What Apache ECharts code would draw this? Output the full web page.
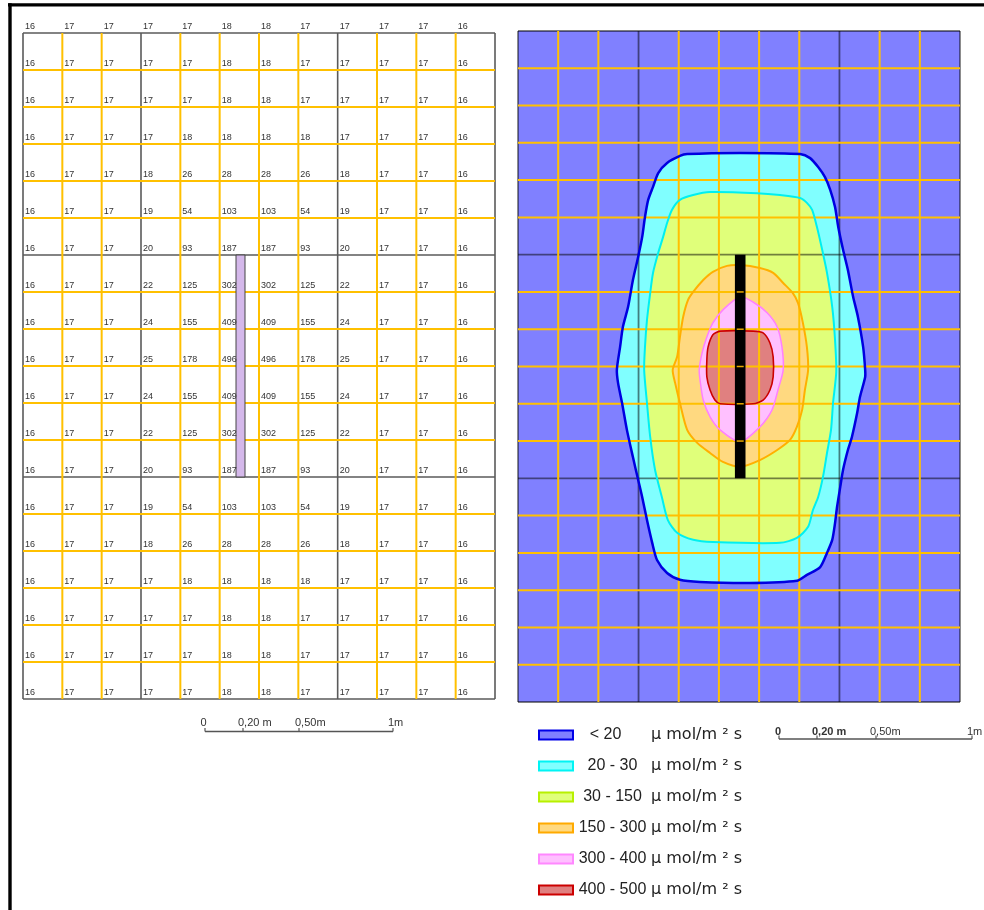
<!DOCTYPE html>
<html><head><meta charset="utf-8">
<script src="https://cdn.jsdelivr.net/npm/echarts@6/dist/echarts.min.js"></script>
<style>html,body{margin:0;padding:0;background:#fff}#c{width:984px;height:910px}</style>
</head><body><div id="c"></div>
<script>
// ---------------- DATA ----------------
// Values at the grid nodes of the left panel (19 node rows x 12 node columns)
const gridValues = [
  [16,17,17,17,17,18,18,17,17,17,17,16],
  [16,17,17,17,17,18,18,17,17,17,17,16],
  [16,17,17,17,17,18,18,17,17,17,17,16],
  [16,17,17,17,18,18,18,18,17,17,17,16],
  [16,17,17,18,26,28,28,26,18,17,17,16],
  [16,17,17,19,54,103,103,54,19,17,17,16],
  [16,17,17,20,93,187,187,93,20,17,17,16],
  [16,17,17,22,125,302,302,125,22,17,17,16],
  [16,17,17,24,155,409,409,155,24,17,17,16],
  [16,17,17,25,178,496,496,178,25,17,17,16],
  [16,17,17,24,155,409,409,155,24,17,17,16],
  [16,17,17,22,125,302,302,125,22,17,17,16],
  [16,17,17,20,93,187,187,93,20,17,17,16],
  [16,17,17,19,54,103,103,54,19,17,17,16],
  [16,17,17,18,26,28,28,26,18,17,17,16],
  [16,17,17,17,18,18,18,18,17,17,17,16],
  [16,17,17,17,17,18,18,17,17,17,17,16],
  [16,17,17,17,17,18,18,17,17,17,17,16],
  [16,17,17,17,17,18,18,17,17,17,17,16]
];
const leftColLines  = [0,1,2,3,4,5,6,7,8,9,10,11,12];
const leftMajorCols = [0,3,8,12];
const rightColLines = [0,1,2,3,4,5,6,7,8,9,10,11];
const rightMajorCols = [0,3,8,11];
const rowLines  = [0,1,2,3,4,5,6,7,8,9,10,11,12,13,14,15,16,17,18];
const majorRows = [0,6,12,18];

// light source (bar): column position and row span
const sourceCol = 5.53;
const sourceRows = [6, 12];
const sourceTickRows = [7,8,9,10,11];

// classes
const classNames = ['< 20', '20 - 30', '30 - 150', '150 - 300', '300 - 400', '400 - 500'];
const unitText = 'μ mol/m ² s';

// iso-lines (column, row) in right panel units
const contour20 = [[4.21,3.30],[4.03,3.35],[3.71,3.54],[3.49,3.81],[3.36,4.18],[3.24,4.53],[3.16,4.99],[3.09,5.53],[2.99,6.06],[2.86,6.68],[2.74,7.40],[2.61,7.94],[2.54,8.48],[2.46,9.09],[2.49,9.44],[2.59,9.98],[2.71,10.70],[2.86,11.43],[2.99,12.04],[3.09,12.50],[3.21,13.12],[3.34,13.73],[3.46,14.19],[3.71,14.54],[4.03,14.72],[4.53,14.78],[5.77,14.81],[6.94,14.75],[7.19,14.59],[7.52,14.38],[7.69,14.00],[7.82,13.65],[7.89,13.20],[7.94,12.77],[8.02,12.23],[8.09,11.77],[8.21,11.24],[8.31,10.89],[8.44,10.25],[8.51,9.82],[8.64,9.28],[8.64,9.09],[8.59,8.48],[8.46,7.67],[8.34,7.13],[8.21,6.41],[8.09,5.87],[7.97,5.26],[7.89,4.72],[7.77,4.26],[7.64,3.92],[7.47,3.65],[7.27,3.41],[7.02,3.30],[5.53,3.27]];
const contour30 = [[4.78,4.32],[4.36,4.40],[4.03,4.53],[3.83,4.80],[3.71,5.15],[3.61,5.53],[3.49,5.95],[3.36,6.49],[3.29,7.03],[3.21,7.75],[3.16,8.48],[3.14,9.09],[3.21,9.98],[3.29,10.89],[3.41,11.77],[3.58,12.50],[3.73,13.12],[3.96,13.46],[4.36,13.65],[4.85,13.71],[6.52,13.73],[6.94,13.60],[7.22,13.30],[7.34,12.85],[7.47,12.50],[7.59,11.96],[7.69,11.32],[7.79,10.70],[7.84,9.98],[7.92,9.15],[7.89,8.29],[7.82,7.40],[7.69,6.49],[7.57,5.87],[7.44,5.26],[7.32,4.80],[7.19,4.61],[7.02,4.48],[6.52,4.40],[5.95,4.35]];
const contour150 = [[5.53,6.28],[5.20,6.30],[4.85,6.46],[4.61,6.68],[4.36,7.00],[4.23,7.22],[4.11,7.67],[4.03,8.21],[3.96,8.74],[3.85,9.09],[3.91,9.44],[4.03,9.98],[4.21,10.70],[4.46,11.05],[4.78,11.32],[5.10,11.56],[5.53,11.69],[6.02,11.51],[6.45,11.24],[6.77,10.97],[6.94,10.62],[7.07,10.17],[7.14,9.63],[7.22,9.09],[7.19,8.48],[7.09,7.83],[6.97,7.30],[6.84,7.03],[6.60,6.76],[6.35,6.49],[6.02,6.36]];
const contour300 = [[5.53,7.13],[5.10,7.48],[4.85,7.83],[4.70,8.21],[4.58,8.64],[4.51,9.09],[4.53,9.36],[4.61,9.90],[4.78,10.35],[5.03,10.70],[5.53,11.02],[6.02,10.62],[6.32,10.17],[6.47,9.63],[6.60,9.09],[6.57,8.48],[6.45,7.94],[6.20,7.56],[5.85,7.27]];
const contour400 = [[5.03,8.05],[4.85,8.15],[4.73,8.48],[4.70,8.82],[4.70,9.28],[4.78,9.63],[4.90,9.90],[5.03,10.00],[5.85,10.00],[6.10,9.90],[6.27,9.63],[6.35,9.28],[6.35,8.74],[6.27,8.37],[6.10,8.10],[5.85,8.05]];

// ---------------- STYLE ----------------
const FONT = "'Liberation Sans', Arial, sans-serif";
const fills   = ['#8080FF', '#80FFFF', '#E0FF7A', '#FFD980', '#FFC0FF', '#E08080'];
const strokes = ['#0000E8', '#00F4F4', '#B8F000', '#FFAA00', '#FF88FF', '#CC0000'];
const contours = [null, contour20, contour30, contour150, contour300, contour400];
const ORANGE = '#FFC000';

const chart = echarts.init(document.getElementById('c'), null, {renderer: 'canvas'});

function gridLineData(cols, majorCols) {
  const d = [];
  cols.forEach(c => d.push([0, c, majorCols.includes(c) ? 1 : 0]));
  rowLines.forEach(r => d.push([1, r, majorRows.includes(r) ? 1 : 0]));
  return d;
}
function gridLineRender(xMax, yMax, majorStyle, minorStyle) {
  return function (params, api) {
    const o = api.value(0), pos = api.value(1), major = api.value(2);
    let p1, p2;
    if (o === 0) { p1 = api.coord([pos, 0]); p2 = api.coord([pos, yMax]); }
    else { p1 = api.coord([0, pos]); p2 = api.coord([xMax, pos]); }
    return {type: 'line', shape: {x1: p1[0], y1: p1[1], x2: p2[0], y2: p2[1]},
      style: major ? majorStyle : minorStyle, z2: major ? 1 : 2};
  };
}

const labelData = [];
gridValues.forEach((row, r) => row.forEach((v, c) => labelData.push([c, r, v])));

const series = [];
// Left panel grid lines
series.push({type: 'custom', xAxisIndex: 0, yAxisIndex: 0, z: 1, clip: false, silent: true,
  data: gridLineData(leftColLines, leftMajorCols),
  renderItem: gridLineRender(12, 18, {stroke: '#5a5a5a', lineWidth: 1.6}, {stroke: ORANGE, lineWidth: 2})});
// Left panel source bar
series.push({type: 'custom', xAxisIndex: 0, yAxisIndex: 0, z: 2, clip: false, silent: true,
  data: [[sourceCol, sourceRows[0], sourceRows[1]]],
  renderItem: function (params, api) {
    const a = api.coord([api.value(0), api.value(1)]), b = api.coord([api.value(0), api.value(2)]);
    return {type: 'rect', shape: {x: a[0] - 4.5, y: a[1], width: 9, height: b[1] - a[1]},
      style: {fill: '#D4B8EA', stroke: '#444', lineWidth: 1}};
  }});
// Left panel node labels
series.push({type: 'custom', xAxisIndex: 0, yAxisIndex: 0, z: 3, clip: false, silent: true,
  data: labelData,
  renderItem: function (params, api) {
    const p = api.coord([api.value(0), api.value(1)]);
    return {type: 'text', x: p[0] + 2, y: p[1] - 6,
      style: {text: String(api.value(2)), fill: '#333', font: '9px ' + FONT, align: 'left', verticalAlign: 'middle'}};
  }});

// Right panel: filled classes
classNames.forEach((name, i) => {
  series.push({type: 'custom', name: name, xAxisIndex: 1, yAxisIndex: 1, z: 1, clip: false, silent: true,
    itemStyle: {color: fills[i]},
    data: [[5.5, 9]],
    renderItem: function (params, api) {
      if (i === 0) {
        const a = api.coord([0, 0]), b = api.coord([11, 18]);
        return {type: 'rect', shape: {x: a[0], y: a[1], width: b[0] - a[0], height: b[1] - a[1]}, style: {fill: fills[0]}};
      }
      return {type: 'polygon', shape: {points: contours[i].map(p => api.coord(p)), smooth: 0.25}, style: {fill: fills[i]}};
    }});
});
// Right panel grid lines
series.push({type: 'custom', xAxisIndex: 1, yAxisIndex: 1, z: 2, clip: false, silent: true,
  data: gridLineData(rightColLines, rightMajorCols),
  renderItem: gridLineRender(11, 18, {stroke: 'rgba(0,0,0,0.5)', lineWidth: 1.8}, {stroke: ORANGE, lineWidth: 2})});
// Right panel iso-lines
const lineColors = ['#0000E0', '#00F0F0', '#FFB000', '#FF80FF', '#CC0000'];
const lineWidths = [2.5, 2, 2, 1.5, 1.6];
series.push({type: 'custom', xAxisIndex: 1, yAxisIndex: 1, z: 3, clip: false, silent: true,
  data: [[0], [1], [2], [3], [4]],
  renderItem: function (params, api) {
    const k = params.dataIndex;
    return {type: 'polygon', shape: {points: contours[k + 1].map(p => api.coord(p)), smooth: 0.25},
      style: {fill: 'none', stroke: lineColors[k], lineWidth: lineWidths[k]}};
  }});
// Right panel source bar
series.push({type: 'custom', xAxisIndex: 1, yAxisIndex: 1, z: 4, clip: false, silent: true,
  data: [[sourceCol, sourceRows[0], sourceRows[1]]],
  renderItem: function (params, api) {
    const a = api.coord([api.value(0), api.value(1)]), b = api.coord([api.value(0), api.value(2)]);
    const children = [{type: 'rect', shape: {x: a[0] - 5.3, y: a[1], width: 10.6, height: b[1] - a[1]}, style: {fill: '#000'}}];
    sourceTickRows.forEach(r => {
      const t = api.coord([api.value(0), r]);
      children.push({type: 'line', shape: {x1: t[0] - 3.5, y1: t[1], x2: t[0] + 3.5, y2: t[1]}, style: {stroke: '#E8A800', lineWidth: 1.5}});
    });
    return {type: 'group', children: children};
  }});

function scaleBar(x0, y, ticks, labels, ty, bold) {
  const els = [{type: 'line', shape: {x1: ticks[0], y1: y, x2: ticks[ticks.length - 1], y2: y}, style: {stroke: '#555', lineWidth: 1.5}}];
  ticks.forEach(t => els.push({type: 'line', shape: {x1: t, y1: y - 3.5, x2: t, y2: y}, style: {stroke: '#555', lineWidth: 1.2}}));
  labels.forEach(l => els.push({type: 'text', x: l[1], y: ty,
    style: {text: l[0], font: (l[2] ? 'bold ' : '') + '11px ' + FONT, fill: '#333', align: l[3] || 'left', verticalAlign: 'middle'}}));
  return els;
}

const graphics = [
  {type: 'line', shape: {x1: 8, y1: 4.8, x2: 984, y2: 4.8}, style: {stroke: '#000', lineWidth: 3.2}},
  {type: 'line', shape: {x1: 10, y1: 3.2, x2: 10, y2: 910}, style: {stroke: '#000', lineWidth: 3.4}}
].concat(
  scaleBar(0, 731.5, [205, 243, 299, 393], [['0', 203.5, false, 'center'], ['0,20 m', 238], ['0,50m', 295], ['1m', 388]], 723),
  scaleBar(0, 739, [779, 817, 876, 972], [['0', 778, true, 'center'], ['0,20 m', 812, true], ['0,50m', 870], ['1m', 967]], 731.5)
);

chart.setOption({
  animation: false,
  backgroundColor: '#fff',
  grid: [
    {left: 23, top: 33, width: 472, height: 666, show: false},
    {left: 518, top: 31, width: 442, height: 671, show: false}
  ],
  xAxis: [
    {type: 'value', gridIndex: 0, min: 0, max: 12, show: false},
    {type: 'value', gridIndex: 1, min: 0, max: 11, show: false}
  ],
  yAxis: [
    {type: 'value', gridIndex: 0, min: 0, max: 18, inverse: true, show: false},
    {type: 'value', gridIndex: 1, min: 0, max: 18, inverse: true, show: false}
  ],
  legend: {
    orient: 'vertical', left: 538, top: 727, padding: 0,
    itemWidth: 34, itemHeight: 9, itemGap: 15, selectedMode: false, icon: 'rect',
    data: classNames.map((n, i) => ({name: n, icon: 'rect', itemStyle: {color: fills[i], borderColor: strokes[i], borderWidth: 2}})),
    formatter: function (name) {
      return (name === classNames[0] ? '{f|' : '{n|') + name + '}{u|' + unitText + '}';
    },
    textStyle: {
      rich: {
        n: {width: 69, align: 'right', fontSize: 16, fontFamily: FONT, color: '#222', lineHeight: 20},
        f: {width: 55, align: 'right', padding: [0, 14, 0, 0], fontSize: 16, fontFamily: FONT, color: '#222', lineHeight: 20},
        u: {fontSize: 16, fontFamily: "'DejaVu Sans', sans-serif", color: '#222', padding: [0, 0, 0, 4], lineHeight: 20}
      }
    }
  },
  graphic: graphics,
  series: series
});
</script>
</body></html>
